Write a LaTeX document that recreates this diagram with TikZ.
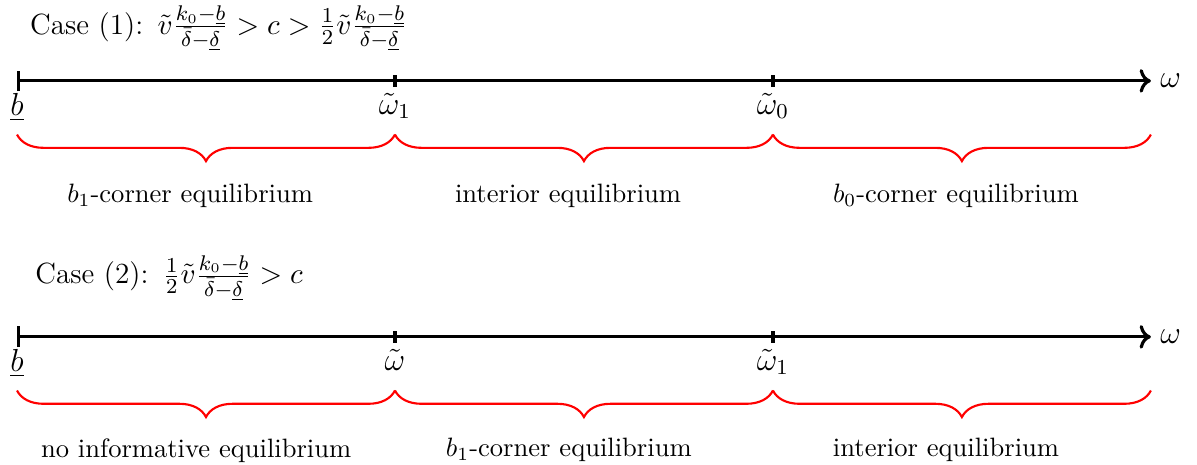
\documentclass[tikz,border=0pt]{standalone}
\usepackage{amsmath}
\usepackage{amssymb}
\usepackage{xcolor}
\usepackage{tikz}
\usetikzlibrary{arrows.meta,decorations.pathreplacing}

\newcommand{\ratio}{\tilde{v}\frac{k_0-\underline{b}}{\bar{\delta}-\underline{\delta}}}
\newcommand{\bigtxt}{\fontsize{11}{13.6}\selectfont}

\begin{document}
\begin{tikzpicture}[
      axis/.style={|->, very thick},
      tick/.style={very thick},
      brc/.style={red, thick, decorate,
        decoration={brace, mirror, amplitude=10pt}},
      lbl/.style={font=\normalsize},
      tlbl/.style={below, yshift=-1pt, font=\large}
    ]
    \useasboundingbox (-0.225,-5.08) rectangle (15.61,1.07);

    % ══ ROW 1: case (1) ═══════════════════════════════════════════════════════
    \node[anchor=base west, font=\bigtxt] (caseA) at (0.05,0.62)
      {Case (1):~\,$\ratio > c > \frac{1}{2}\ratio$};

    \coordinate (bA) at (0,0);
    \coordinate (wA1) at (5,0);
    \coordinate (wA0) at (10,0);
    \coordinate (eA) at (15,0);
    \draw[axis] (bA) -- (eA);
    \draw[tick] (wA1) ++(0,-0.08) -- ++(0,0.16);
    \draw[tick] (wA0) ++(0,-0.08) -- ++(0,0.16);
    \node[right, font=\large] (omA) at (eA) {$\omega$};

    \node[tlbl] (lbA) at (bA) {$\underline{b}$};
    \node[tlbl] (lwA1) at (wA1) {$\tilde{\omega}_1$};
    \node[tlbl] (lwA0) at (wA0) {$\tilde{\omega}_0$};

    % braces and regions
    \draw[brc] (0,-0.71) -- (5,-0.71);
    \draw[brc] (5,-0.71) -- (10,-0.71);
    \draw[brc] (10,-0.71) -- (15,-0.71);
    \node[lbl] (rA1) at (2.29,-1.52) {$b_1$-corner equilibrium};
    \node[lbl] (rA2) at (7.29,-1.52) {interior equilibrium};
    \node[lbl] (rA3) at (12.42,-1.52) {$b_0$-corner equilibrium};

    % ══ ROW 2: case (2) ═══════════════════════════════════════════════════════
    \begin{scope}[yshift=-3.386cm]
      \node[anchor=base west, font=\bigtxt] (caseB) at (0.12,0.70)
        {Case (2):~\,$\frac{1}{2}\ratio > c$};

      \coordinate (bB) at (0,0);
      \coordinate (wB) at (5,0);
      \coordinate (wB1) at (10,0);
      \coordinate (eB) at (15,0);
      \draw[axis] (bB) -- (eB);
      \draw[tick] (wB) ++(0,-0.08) -- ++(0,0.16);
      \draw[tick] (wB1) ++(0,-0.08) -- ++(0,0.16);
      \node[right, font=\large] (omB) at (eB) {$\omega$};

      \node[tlbl] (lbB) at (bB) {$\underline{b}$};
      \node[tlbl] (lwB) at (wB) {$\tilde{\omega}$};
      \node[tlbl] (lwB1) at (wB1) {$\tilde{\omega}_1$};

      \draw[brc] (0,-0.71) -- (5,-0.71);
      \draw[brc] (5,-0.71) -- (10,-0.71);
      \draw[brc] (10,-0.71) -- (15,-0.71);
      \node[lbl] (rB1) at (2.37,-1.50) {no informative equilibrium};
      \node[lbl] (rB2) at (7.30,-1.50) {$b_1$-corner equilibrium};
      \node[lbl] (rB3) at (12.29,-1.50) {interior equilibrium};
    \end{scope}

  \end{tikzpicture}
\end{document}
